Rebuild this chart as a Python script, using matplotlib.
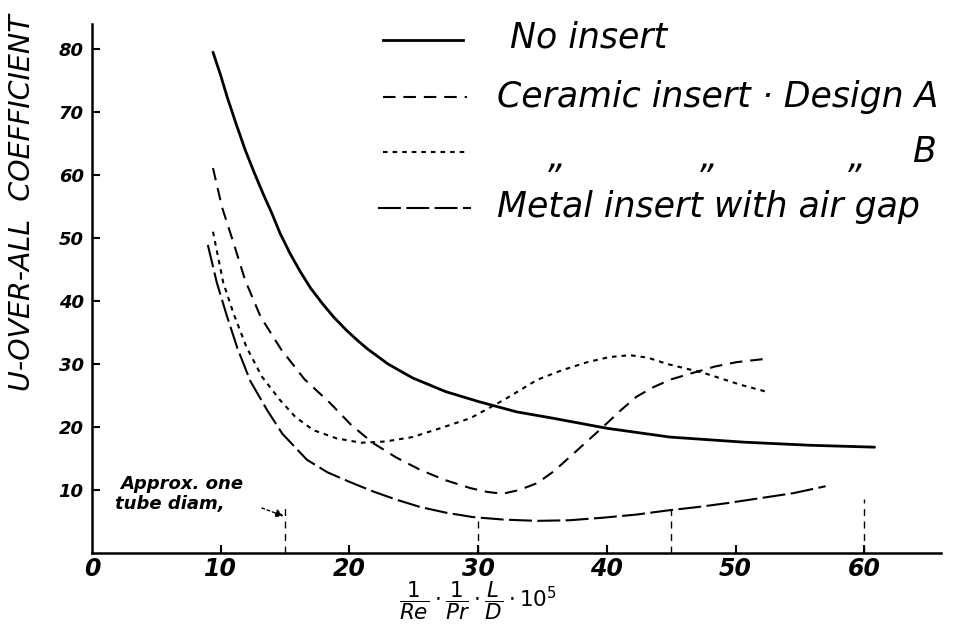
import matplotlib
matplotlib.use("Agg")
import matplotlib.pyplot as plt
from matplotlib.lines import Line2D

# --- data -------------------------------------------------------------
no_insert_x = [9.4, 10.0, 10.5, 11.2, 11.9, 12.6, 13.3, 14.0, 14.6, 15.4, 16.2,
               17.0, 17.9, 18.8, 19.8, 20.6, 21.4, 23.0, 24.9, 27.5, 30.1, 33.0,
               35.8, 40.0, 44.9, 50.6, 55.8, 60.8]
no_insert_y = [79.5, 75.8, 72.4, 68.1, 64.0, 60.4, 57.0, 53.8, 50.8, 47.5, 44.6,
               42.0, 39.6, 37.4, 35.3, 33.8, 32.4, 30.0, 27.8, 25.6, 24.0, 22.4,
               21.4, 19.8, 18.4, 17.6, 17.1, 16.8]

ceramic_a_x = [9.4, 10.1, 11.0, 11.9, 13.1, 14.7, 16.5, 18.5, 20.1, 21.8, 23.6,
               25.5, 27.4, 29.4, 30.7, 31.9, 33.2, 34.6, 35.9, 37.1, 38.4, 39.7,
               41.0, 42.3, 43.6, 44.9, 46.7, 48.4, 50.1, 52.7]
ceramic_a_y = [61.1, 54.9, 49.2, 43.3, 37.5, 32.3, 27.6, 23.8, 20.4, 17.5, 15.2,
               13.2, 11.6, 10.3, 9.7, 9.4, 10.0, 11.1, 13.0, 15.2, 17.6, 20.0,
               22.5, 24.8, 26.3, 27.5, 28.6, 29.6, 30.3, 30.9]

ceramic_b_x = [9.4, 10.2, 11.0, 12.0, 13.2, 14.6, 15.8, 17.2, 19.0, 20.9, 22.8,
               24.9, 27.2, 29.4, 32.0, 34.6, 36.5, 38.5, 40.2, 41.8, 43.2, 44.7,
               47.5, 50.4, 52.4]
ceramic_b_y = [51.0, 42.9, 38.0, 32.7, 28.0, 24.3, 21.6, 19.5, 18.2, 17.5, 17.7,
               18.4, 19.9, 21.4, 24.3, 27.5, 29.0, 30.3, 31.1, 31.4, 31.0, 30.0,
               28.6, 26.7, 25.6]

metal_x = [9.0, 9.7, 10.5, 11.3, 12.3, 13.6, 14.8, 16.7, 18.3, 20.0, 21.8, 23.6,
           25.5, 27.5, 29.6, 32.0, 34.6, 37.1, 39.7, 42.3, 44.9, 47.1, 49.3,
           51.9, 54.5, 57.0]
metal_y = [48.9, 42.9, 37.5, 32.5, 27.3, 22.7, 18.9, 14.8, 12.8, 11.3, 9.8, 8.5,
           7.3, 6.4, 5.7, 5.3, 5.1, 5.2, 5.6, 6.1, 6.8, 7.3, 7.9, 8.7, 9.5, 10.6]

# tube-diameter markers (multiples of one tube diameter)
diam_x = [15, 30, 45, 60]
diam_top = [7.2, 5.8, 7.0, 8.6]

x_ticks = [0, 10, 20, 30, 40, 50, 60]
x_tick_labels = ["0", "10", "20", "30", "40", "50", "60"]
y_ticks = [10, 20, 30, 40, 50, 60, 70, 80]
y_tick_labels = ["10", "20", "30", "40", "50", "60", "70", "80"]

legend_labels = ["No insert", "Ceramic insert \u00b7 Design A", "B",
                 "Metal insert with air gap"]

# --- styles -------------------------------------------------------------
LW = 1.5
styles = {
    "solid": dict(color="black", lw=2.0, linestyle="-"),
    "dashA": dict(color="black", lw=LW, linestyle=(0, (6.0, 3.8))),
    "dotB": dict(color="black", lw=LW, linestyle=(0, (2.2, 2.4))),
    "metal": dict(color="black", lw=LW, linestyle=(0, (11, 2.6))),
}

W, H = 957, 625
fig = plt.figure(figsize=(W / 100, H / 100), dpi=100)
ax = fig.add_axes([92 / W, (H - 553) / H, 66 * 12.87 / W, 84 * 6.3 / H])
ax.set_xlim(0, 66)
ax.set_ylim(0, 84)

ax.plot(no_insert_x, no_insert_y, **styles["solid"], solid_capstyle="round",
        solid_joinstyle="round")
ax.plot(ceramic_a_x, ceramic_a_y, **styles["dashA"])
ax.plot(ceramic_b_x, ceramic_b_y, **styles["dotB"])
ax.plot(metal_x, metal_y, **styles["metal"])

for xv, top in zip(diam_x, diam_top):
    ax.plot([xv, xv], [0, top], color="black", lw=1.0,
            linestyle=(0, (5, 4)))

# annotation
hand = dict(family="DejaVu Sans", style="italic", weight="bold")
ax.text(2.2, 11.0, "Approx. one", fontsize=13, va="center", ha="left", **hand)
ax.text(1.8, 7.8, "tube diam,", fontsize=13, va="center", ha="left", **hand)
ax.annotate("", xy=(15.1, 5.7), xytext=(13.0, 7.3),
            arrowprops=dict(arrowstyle="-|>", color="black", lw=1.0,
                            linestyle=(0, (2, 2)), mutation_scale=12))

# axes
for s in ("top", "right"):
    ax.spines[s].set_visible(False)
for s in ("left", "bottom"):
    ax.spines[s].set_linewidth(1.8)
ax.set_xticks(x_ticks)
ax.set_xticklabels(x_tick_labels, fontsize=17, style="italic", weight="bold")
ax.set_yticks(y_ticks)
ax.set_yticklabels(y_tick_labels, fontsize=13, style="italic", weight="bold")
ax.tick_params(axis="both", direction="in", length=6, width=1.5)
ax.tick_params(axis="x", pad=3)
ax.tick_params(axis="y", pad=6)
ax.xaxis.get_major_ticks()[0].tick1line.set_visible(False)

fig.text(22 / W, 1 - 203 / H, "U-OVER-ALL  COEFFICIENT", rotation=90,
         ha="center", va="center", fontsize=20.5, style="italic",
         family="Liberation Sans Narrow")

fig.text(478 / W, 1 - 601 / H,
         r"$\dfrac{1}{Re}\cdot\dfrac{1}{Pr}\cdot\dfrac{L}{D}\cdot10^{5}$",
         ha="center", va="center", fontsize=15.5)

# legend drawn in figure pixels
def fx(px):
    return px / W

def fy(py):
    return 1 - py / H

rows = [(40, 383, 463, "solid"), (97, 383, 467, "dashA"),
        (152, 383, 467, "dotB"), (208, 378, 471, "metal")]
for (py, x0, x1, key) in rows:
    st = dict(styles[key])
    fig.add_artist(Line2D([fx(x0), fx(x1)], [fy(py), fy(py)],
                          transform=fig.transFigure, **st))

leg_font = dict(family="DejaVu Sans", style="italic", fontsize=25,
                va="center", ha="left")
fig.text(fx(510), fy(38), legend_labels[0], **leg_font)
fig.text(fx(497), fy(97), legend_labels[1], **leg_font)
for qx in (548, 700, 848):
    fig.text(fx(qx), fy(158), "\u201e", **leg_font)
fig.text(fx(912), fy(152), legend_labels[2], **leg_font)
fig.text(fx(497), fy(207), legend_labels[3], **leg_font)

fig.savefig("out.png", dpi=100)
